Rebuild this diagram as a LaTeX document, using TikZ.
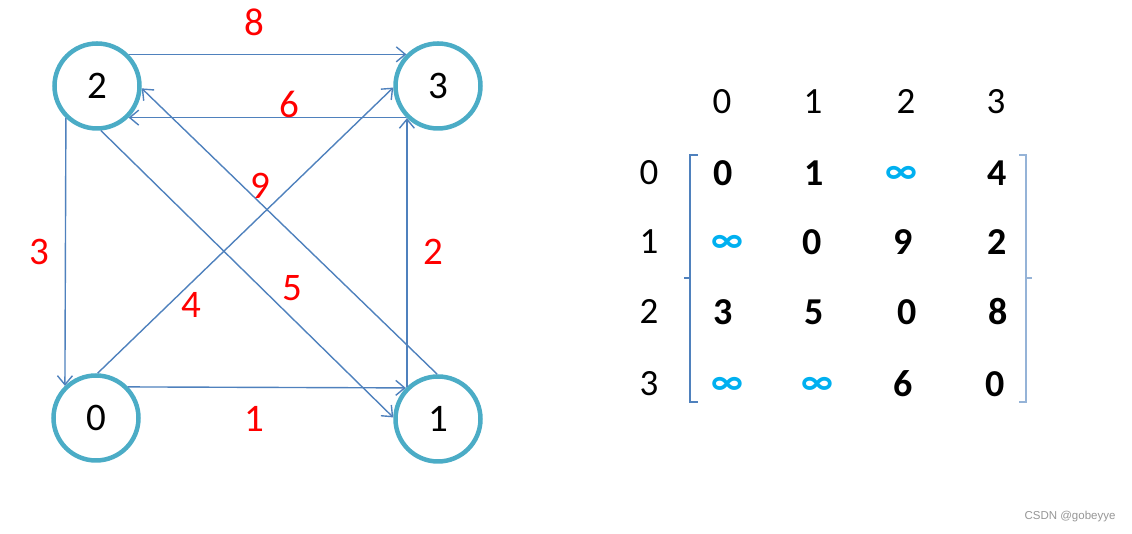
\documentclass[tikz,border=0pt]{standalone}
\usepackage{fontspec}
\setmainfont{Carlito}
\newfontfamily\wmfont{Liberation Sans}
\usetikzlibrary{arrows.meta}
\definecolor{ringcol}{RGB}{75,172,198}
\definecolor{edgecol}{RGB}{79,129,189}
\definecolor{brackR}{RGB}{149,179,215}
\definecolor{infcol}{RGB}{0,176,240}
\definecolor{wmcol}{RGB}{150,150,150}
\tikzset{
  vertex/.style={circle, draw=ringcol, line width=4.5pt, minimum size=85pt, inner sep=0pt,
    font=\fontsize{39}{40}\selectfont},
  edge/.style={draw=edgecol, line width=1.4pt, -{Straight Barb[length=9pt,width=15pt,line width=1.4pt]}},
  wlabel/.style={text=red, inner sep=0pt, font=\fontsize{39}{40}\selectfont},
  head/.style={inner sep=0pt, font=\fontsize{37}{40}\selectfont},
  entry/.style={inner sep=0pt, font=\fontsize{38}{40}\selectfont\bfseries},
  infent/.style={inner sep=0pt, text=infcol, font=\fontsize{38}{40}\selectfont\bfseries},
  brackL/.style={draw=edgecol, line width=1.6pt},
  brackRs/.style={draw=brackR, line width=1.6pt},
}
\begin{document}
\begin{tikzpicture}[x=1pt,y=1pt]
\useasboundingbox (0,0) rectangle (1132,534);
% vertices
\node[vertex] (n2) at (97,448) {2};
\node[vertex] (n3) at (438,448) {3};
\node[vertex] (n0) at (96,116) {0};
\node[vertex] (n1) at (438,115) {1};
% edges
\draw[edge] (n2.45) -- (n3.135);
\draw[edge] (n3.225) -- (n2.315);
\draw[edge] (n2.226) -- (n0.134);
\draw[edge] (n1.134) -- (n3.226);
\draw[edge] (n0.44) -- (n1.136);
\draw[edge] (n0.88) -- (n3.182);
\draw[edge] (n2.275) -- (n1.178);
\draw[edge] (n1.91) -- (n2.357);
% weights
\node[wlabel] (w8) at (254,512) {8};
\node[wlabel] (w6) at (289,430) {6};
\node[wlabel] (w3) at (39,282) {3};
\node[wlabel] (w2) at (433,282) {2};
\node[wlabel] (w1) at (254,115) {1};
\node[wlabel] (w4) at (191,229) {4};
\node[wlabel] (w5) at (292,246) {5};
\node[wlabel] (w9) at (260,348) {9};
% matrix header
\node[head] (h0) at (722,432) {0};
\node[head] (h1) at (813,432) {1};
\node[head] (h2) at (906,432) {2};
\node[head] (h3) at (996,432) {3};
\node[head] (r0) at (649,361) {0};
\node[head] (r1) at (649,292) {1};
\node[head] (r2) at (649,222) {2};
\node[head] (r3) at (649,150) {3};
% entries
\node[entry]  (m00) at (723,361) {0};
\node[entry]  (m01) at (814,361) {1};
\node[infent] (m02) at (901,359) {∞};
\node[entry]  (m03) at (997,361) {4};
\node[infent] (m10) at (727,290) {∞};
\node[entry]  (m11) at (812,292) {0};
\node[entry]  (m12) at (903,292) {9};
\node[entry]  (m13) at (997,292) {2};
\node[entry]  (m20) at (723,222) {3};
\node[entry]  (m21) at (814,222) {5};
\node[entry]  (m22) at (907,222) {0};
\node[entry]  (m23) at (998,222) {8};
\node[infent] (m30) at (727,148) {∞};
\node[infent] (m31) at (817,148) {∞};
\node[entry]  (m32) at (903,150) {6};
\node[entry]  (m33) at (995,150) {0};
% brackets
\draw[brackL] (698,379) -- (690,379) -- (690,132) -- (698,132);
\draw[brackL] (690,256) -- (684,256);
\draw[brackRs] (1019,379) -- (1026,379) -- (1026,132) -- (1019,132);
\draw[brackRs] (1026,256) -- (1032,256);
% watermark
\node[inner sep=0pt, text=wmcol, font=\wmfont\fontsize{11.5}{13}\selectfont] (wm) at (1070,17) {CSDN @gobeyye};
\end{tikzpicture}
\end{document}
